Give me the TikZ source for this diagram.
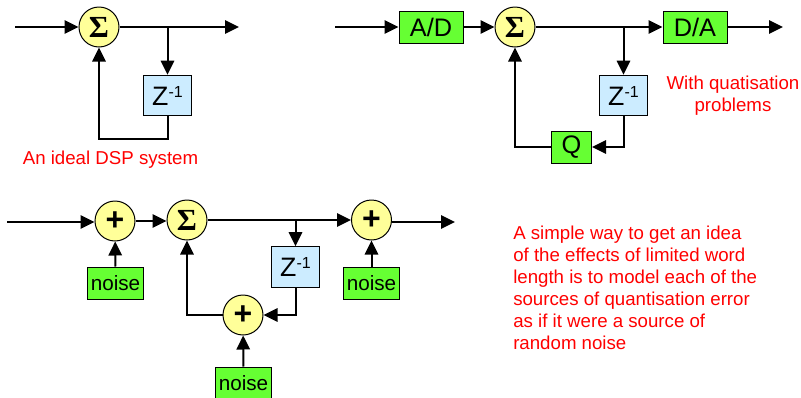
\documentclass[tikz,border=0pt]{standalone}
\usepackage{amsmath,amssymb}
\usepackage{fontspec}
\setmainfont{Liberation Sans}
\newfontfamily\sigmafont{Liberation Serif}
\usetikzlibrary{positioning, arrows.meta}
\definecolor{sumyellow}{HTML}{FFFF99}
\definecolor{blockgreen}{HTML}{66FF33}
\definecolor{delayblue}{HTML}{CCECFF}
\tikzset{
  flow/.style={-{Triangle[length=10.5pt,width=10pt]}, line width=1.5pt, black},
  adder/.style={circle, draw, line width=.75pt, fill=sumyellow, minimum size=30pt, inner sep=0pt},
  block/.style={draw, line width=.75pt, fill=blockgreen, inner sep=0pt, minimum height=24pt, font=\fontsize{19}{22}\selectfont},
  noisebox/.style={block, minimum width=42pt, font=\fontsize{15.5}{18}\selectfont},
  delay/.style={draw, line width=.75pt, fill=delayblue, inner sep=0pt, minimum width=36pt, minimum height=30.5pt, font=\fontsize{20}{22}\selectfont},
  note/.style={red, inner sep=0pt, font=\fontsize{14}{16.5}\selectfont},
}
\newcommand{\sumsign}{\raisebox{-2pt}{\fontsize{23}{26}\sigmafont\bfseries Σ}}
\newcommand{\plussign}{\raisebox{-2.5pt}{\fontsize{24}{24}\selectfont\bfseries +}}
\newcommand{\delaysign}{Z\raisebox{6pt}{\fontsize{12}{12}\selectfont -1}}
\begin{document}
\begin{tikzpicture}[x=.75pt, y=-.75pt]
    \useasboundingbox (0,0) rectangle (801,397);
    % ideal system
    \coordinate (inA) at (15,27);
    \coordinate (outA) at (239,27);
    \node[adder] (sumA) at (99,27) {\sumsign};
    \node[delay] (zA) at (167.5,95.5) {\delaysign};
    \coordinate (cornerA) at (99,139);
    \draw[flow] (inA)--(sumA);
    \draw[flow] (sumA)--(outA);
    \draw[flow] (sumA -| zA)--(zA);
    \draw[flow] (zA.south) |- (cornerA) -- (sumA);
    \node[note] (ideal) at (110.5,160) {An ideal DSP system};
    % with quantisers
    \coordinate (inB) at (335,27);
    \coordinate (outB) at (783,27);
    \node[block, minimum width=48pt] (ad) at (431,27) {A/D};
    \node[adder] (sumB) at (515,27) {\sumsign};
    \node[block, minimum width=48pt] (da) at (695,27) {D/A};
    \node[delay] (zB) at (623.5,95.5) {\delaysign};
    \node[block, minimum width=30pt] (quant) at (571.5,147) {Q};
    \draw[flow] (inB)--(ad);
    \draw[flow] (ad)--(sumB);
    \draw[flow] (sumB)--(da);
    \draw[flow] (da)--(outB);
    \draw[flow] (sumB -| zB)--(zB);
    \draw[flow] (zB.south) |- (quant);
    \draw[flow] (quant) -| (sumB);
    \node[note, align=center] (problem) at (733,95.5) {With quatisation\\problems};
    % noise model
    \coordinate (inC) at (7,222);
    \coordinate (outC) at (455,222);
    \node[adder] (plusA) at (115,221) {\plussign};
    \node[adder] (sumC) at (187,220) {\sumsign};
    \node[adder] (plusB) at (371.5,220) {\plussign};
    \node[adder] (plusC) at (243,315) {\plussign};
    \node[delay] (zC) at (295.5,267) {\delaysign};
    \node[noisebox] (noiseA) at (115.5,283) {noise};
    \node[noisebox] (noiseB) at (371.5,283) {noise};
    \node[noisebox] (noiseC) at (243.5,383) {noise};
    \draw[flow] (inC)--(plusA.west |- inC);
    \draw[flow] (plusA.east)--(plusA.east -| sumC.west);
    \draw[flow] (sumC)--(plusB);
    \draw[flow] (plusB.east |- outC)--(outC);
    \draw[flow] (sumC -| zC)--(zC);
    \draw[flow] (zC.south) |- (plusC);
    \draw[flow] (plusC) -| (sumC);
    \draw[flow] (noiseA)--(plusA);
    \draw[flow] (noiseB)--(plusB);
    \draw[flow] (noiseC)--(plusC);
    \node[note, align=left, anchor=west] (model) at (513,288) {A simple way to get an idea\\of the effects of limited word\\length is to model each of the\\sources of quantisation error\\as if it were a source of\\random noise};
\end{tikzpicture}
\end{document}
